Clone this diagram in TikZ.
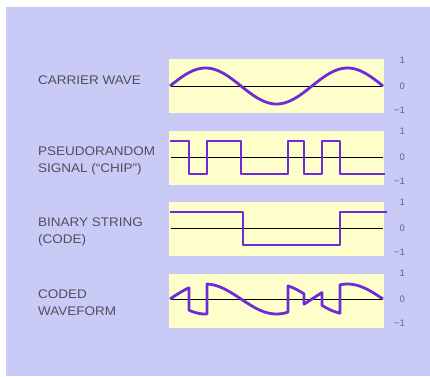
\documentclass[tikz,border=0pt]{standalone}
\usepackage{fontspec}
\newfontfamily\lblfont[FakeStretch=1.08]{Liberation Sans}
\newfontfamily\tickfont{Liberation Sans}
\definecolor{lavender}{RGB}{202,202,246}
\definecolor{panely}{RGB}{254,254,202}
\definecolor{wave}{RGB}{108,44,214}
\definecolor{lbltext}{RGB}{78,78,96}
\definecolor{ticktext}{RGB}{100,100,125}
\tikzset{
  panel/.style={fill=panely, draw=none},
  zeroline/.style={black, line width=0.9pt},
  sig/.style={wave, line width=2.8pt, line join=round},
  lbl/.style={font=\lblfont\fontsize{12.5}{17}\selectfont, text=lbltext, anchor=west, inner sep=0pt, align=left},
  tick/.style={font=\tickfont\fontsize{9.5}{10}\selectfont, text=ticktext, anchor=east, inner sep=0pt}
}
\begin{document}
\begin{tikzpicture}[x=1pt,y=-1pt]
\useasboundingbox (0,0) rectangle (430,376);
\fill[white] (0,0) rectangle (430,376);
\fill[lavender] (6,7) rectangle (430,376);
% panels
\fill[panel] (169,59) rectangle (384,113);
\fill[panel] (169,130.5) rectangle (384,184.5);
\fill[panel] (169,202) rectangle (384,256);
\fill[panel] (169,273.5) rectangle (384,327.5);
% zero lines
\draw[zeroline] (171,86) -- (383,86);
\draw[zeroline] (171,157) -- (383,157);
\draw[zeroline] (171,228) -- (383,228);
\draw[zeroline] (171,299) -- (383,299);
% labels
\node[lbl] (l1) at (38,80.5) {CARRIER WAVE};
\node[lbl] (l2) at (38,161) {PSEUDORANDOM\\SIGNAL (“CHIP”)};
\node[lbl] (l3) at (38,232) {BINARY STRING\\(CODE)};
\node[lbl] (l4) at (38,303) {CODED\\WAVEFORM};
% ticks
\foreach \z [count=\i] in {86,157,228,299}{
  \node[tick] (t\i a) at (405,\z-26) {1};
  \node[tick] (t\i b) at (405,\z) {0};
  \node[tick] (t\i c) at (405,\z+24) {\char"2212 1};
}
% carrier
\draw[sig] plot[domain=170:383, samples=120] (\x,{86-18*sin((\x-170)*2.53521)});
% chip
\draw[sig] (170,141) -- (189,141) -- (189,174) -- (207,174) -- (207,141) -- (241,141) -- (241,174)
  -- (288,174) -- (288,141) -- (304,141) -- (304,174) -- (322,174) -- (322,141) -- (340,141) -- (340,174) -- (385,174);
% binary
\draw[sig] (170,212) -- (243,212) -- (243,245) -- (340,245) -- (340,212) -- (387,212);
% coded
\draw[sig] plot[domain=170:189, samples=12] (\x,{299-15*sin((\x-170)*2.53521)})
  -- plot[domain=189:207, samples=12] (\x,{299+15*sin((\x-170)*2.53521)})
  -- plot[domain=207:288, samples=45] (\x,{299-15*sin((\x-170)*2.53521)})
  -- plot[domain=288:304, samples=10] (\x,{299+15*sin((\x-170)*2.53521)})
  -- plot[domain=304:322, samples=10] (\x,{299-15*sin((\x-170)*2.53521)})
  -- plot[domain=322:340, samples=10] (\x,{299+15*sin((\x-170)*2.53521)})
  -- plot[domain=340:383, samples=25] (\x,{299-15*sin((\x-170)*2.53521)});
\end{tikzpicture}
\end{document}
